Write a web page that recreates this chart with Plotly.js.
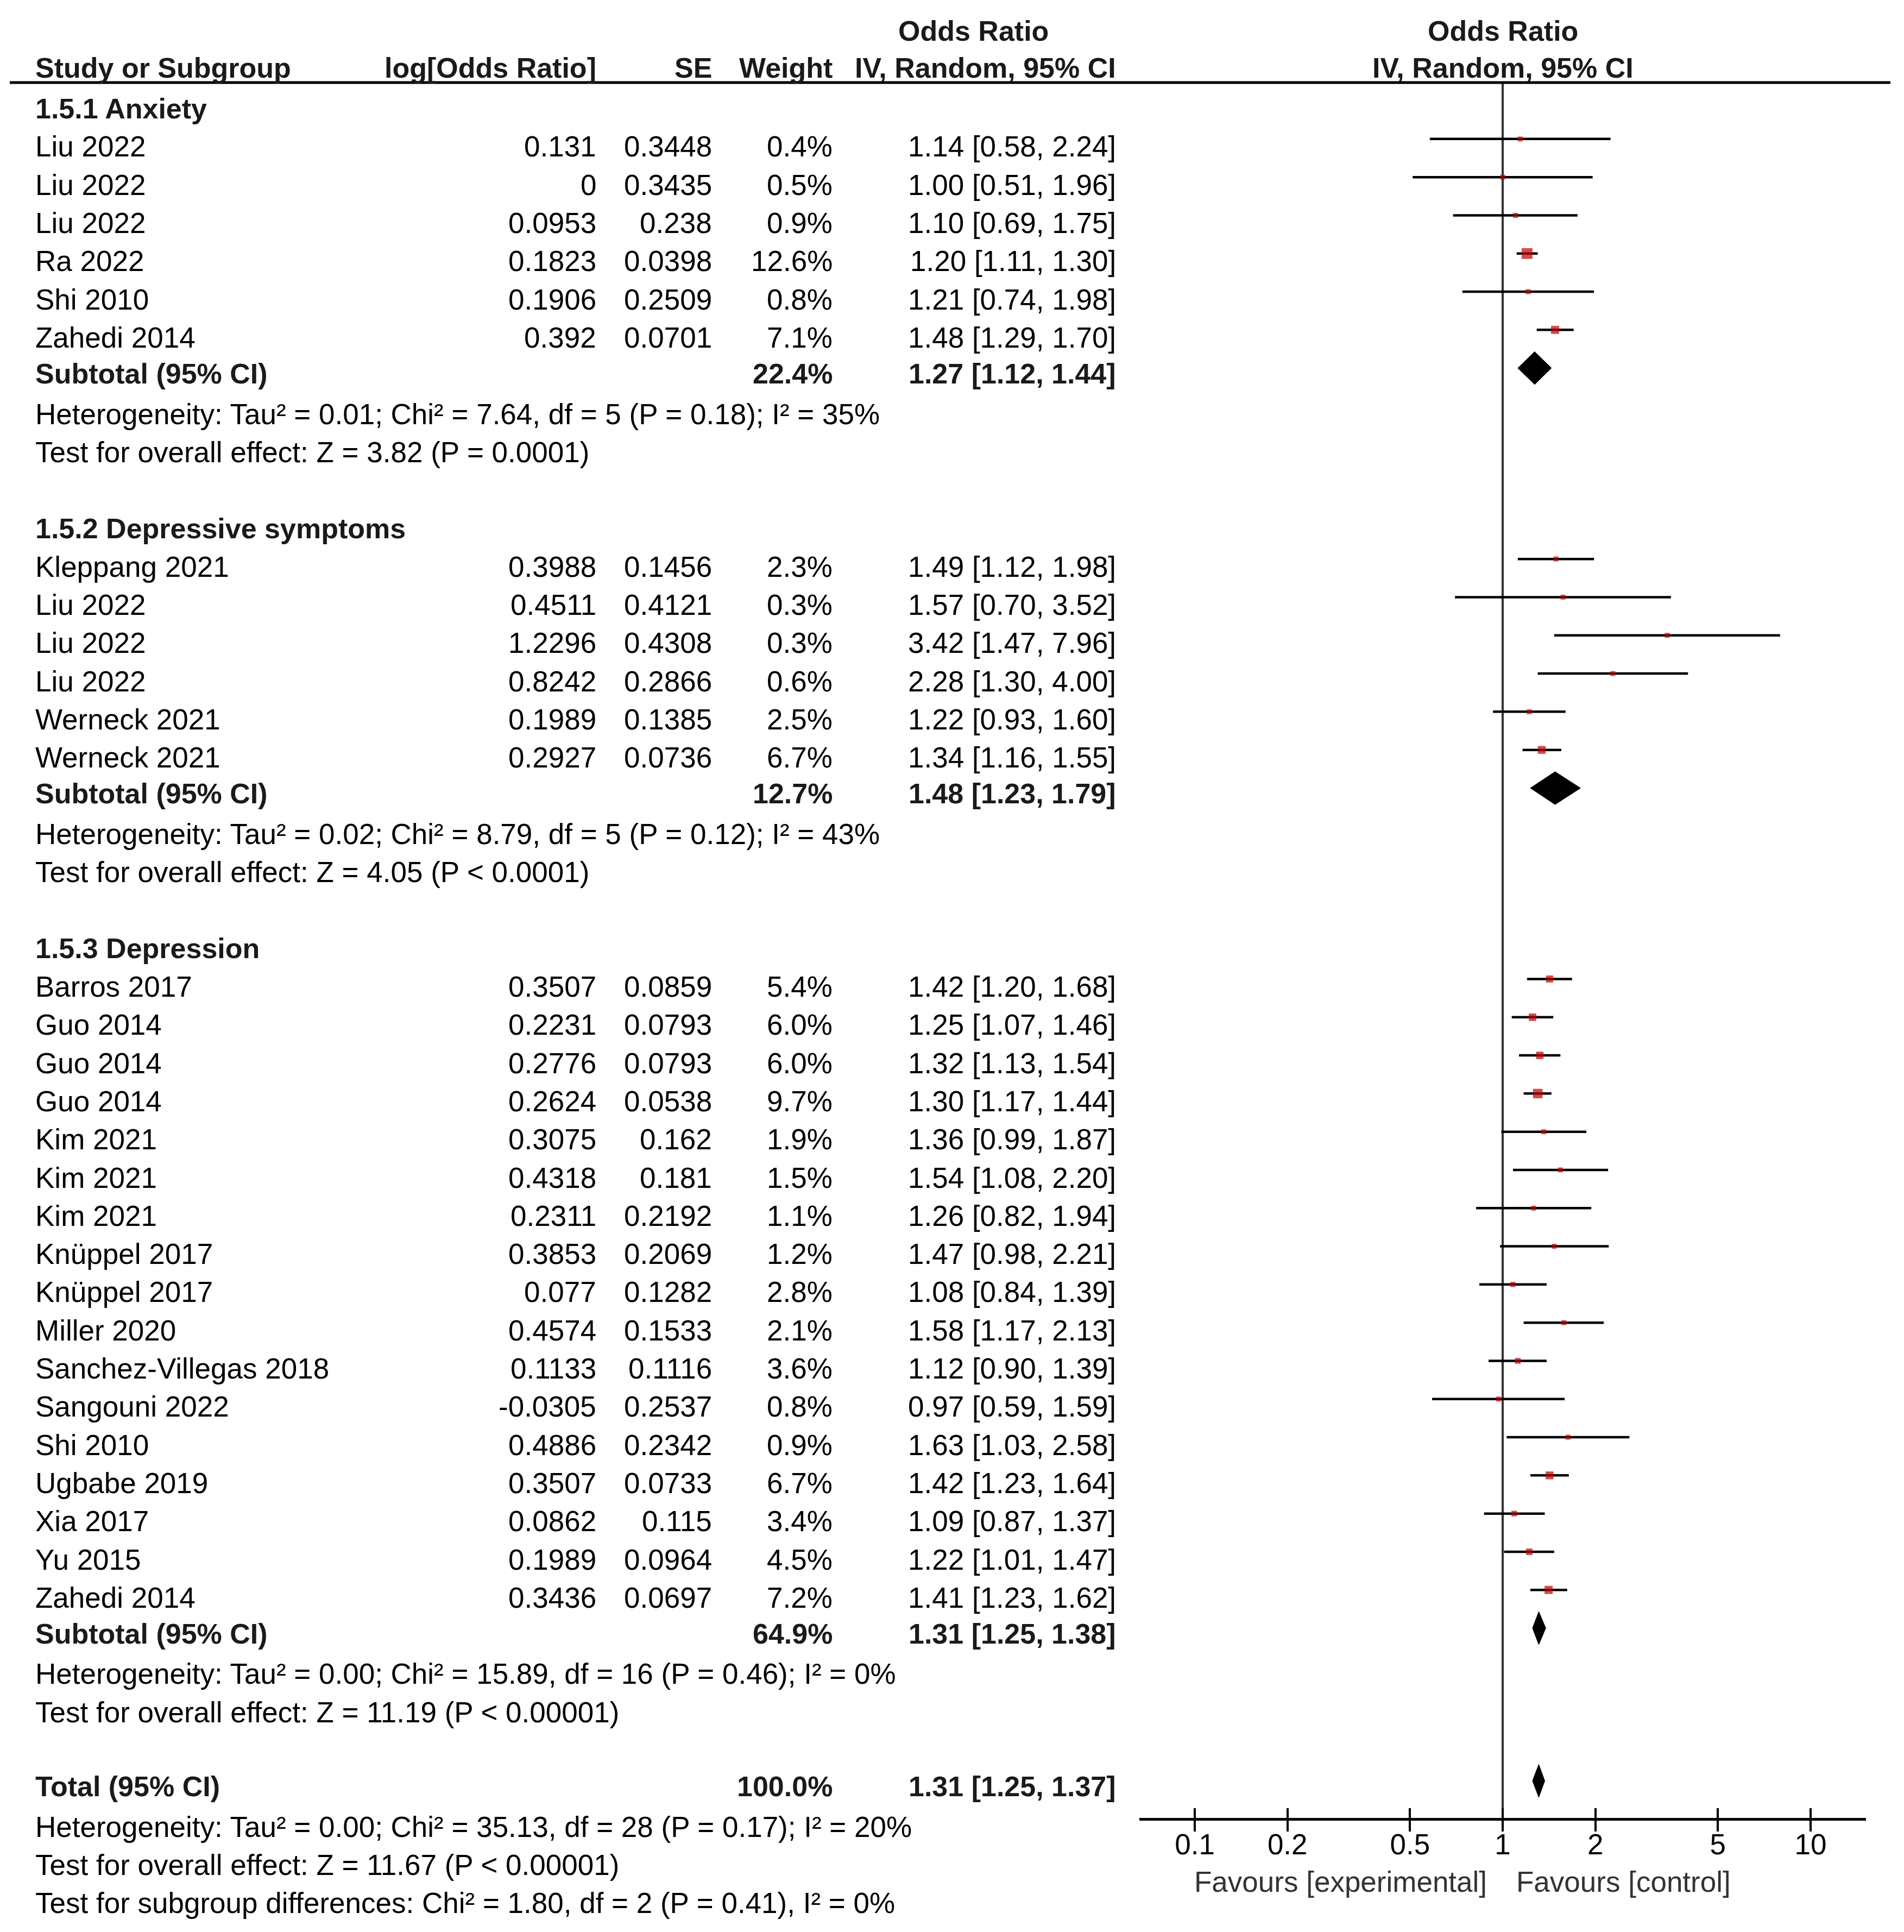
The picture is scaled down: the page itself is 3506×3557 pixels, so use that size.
<!DOCTYPE html>
<html>
<head>
<meta charset="utf-8">
<script src="https://cdn.plot.ly/plotly-3.0.1.min.js"></script>
<style>
  html, body { margin: 0; padding: 0; background: #ffffff; }
  #chart { width: 3506px; height: 3557px; }
</style>
</head>
<body>
<div id="chart"></div>
<script>
// ---------------- DATA ----------------
// 1.5.1 Anxiety
const anxStudy  = ["Liu 2022", "Liu 2022", "Liu 2022", "Ra 2022", "Shi 2010", "Zahedi 2014"];
const anxLogOR  = [0.131, 0, 0.0953, 0.1823, 0.1906, 0.392];
const anxSE     = [0.3448, 0.3435, 0.238, 0.0398, 0.2509, 0.0701];
const anxWeight = [0.4, 0.5, 0.9, 12.6, 0.8, 7.1];
const anxOR     = [1.14, 1.00, 1.10, 1.20, 1.21, 1.48];
const anxLo     = [0.58, 0.51, 0.69, 1.11, 0.74, 1.29];
const anxHi     = [2.24, 1.96, 1.75, 1.30, 1.98, 1.70];

// 1.5.2 Depressive symptoms
const dsyStudy  = ["Kleppang 2021", "Liu 2022", "Liu 2022", "Liu 2022", "Werneck 2021", "Werneck 2021"];
const dsyLogOR  = [0.3988, 0.4511, 1.2296, 0.8242, 0.1989, 0.2927];
const dsySE     = [0.1456, 0.4121, 0.4308, 0.2866, 0.1385, 0.0736];
const dsyWeight = [2.3, 0.3, 0.3, 0.6, 2.5, 6.7];
const dsyOR     = [1.49, 1.57, 3.42, 2.28, 1.22, 1.34];
const dsyLo     = [1.12, 0.70, 1.47, 1.30, 0.93, 1.16];
const dsyHi     = [1.98, 3.52, 7.96, 4.00, 1.60, 1.55];

// 1.5.3 Depression
const depStudy  = ["Barros 2017", "Guo 2014", "Guo 2014", "Guo 2014", "Kim 2021", "Kim 2021", "Kim 2021",
                   "Knüppel 2017", "Knüppel 2017", "Miller 2020", "Sanchez-Villegas 2018", "Sangouni 2022",
                   "Shi 2010", "Ugbabe 2019", "Xia 2017", "Yu 2015", "Zahedi 2014"];
const depLogOR  = [0.3507, 0.2231, 0.2776, 0.2624, 0.3075, 0.4318, 0.2311, 0.3853, 0.077, 0.4574,
                   0.1133, -0.0305, 0.4886, 0.3507, 0.0862, 0.1989, 0.3436];
const depSE     = [0.0859, 0.0793, 0.0793, 0.0538, 0.162, 0.181, 0.2192, 0.2069, 0.1282, 0.1533,
                   0.1116, 0.2537, 0.2342, 0.0733, 0.115, 0.0964, 0.0697];
const depWeight = [5.4, 6.0, 6.0, 9.7, 1.9, 1.5, 1.1, 1.2, 2.8, 2.1, 3.6, 0.8, 0.9, 6.7, 3.4, 4.5, 7.2];
const depOR     = [1.42, 1.25, 1.32, 1.30, 1.36, 1.54, 1.26, 1.47, 1.08, 1.58, 1.12, 0.97, 1.63, 1.42, 1.09, 1.22, 1.41];
const depLo     = [1.20, 1.07, 1.13, 1.17, 0.99, 1.08, 0.82, 0.98, 0.84, 1.17, 0.90, 0.59, 1.03, 1.23, 0.87, 1.01, 1.23];
const depHi     = [1.68, 1.46, 1.54, 1.44, 1.87, 2.20, 1.94, 2.21, 1.39, 2.13, 1.39, 1.59, 2.58, 1.64, 1.37, 1.47, 1.62];

// Subgroup summaries
const groupTitles = ["1.5.1 Anxiety", "1.5.2 Depressive symptoms", "1.5.3 Depression"];
const subWeight   = [22.4, 12.7, 64.9];
const subOR       = [1.27, 1.48, 1.31];
const subLo       = [1.12, 1.23, 1.25];
const subHi       = [1.44, 1.79, 1.38];
const subHet      = ["Heterogeneity: Tau² = 0.01; Chi² = 7.64, df = 5 (P = 0.18); I² = 35%",
                     "Heterogeneity: Tau² = 0.02; Chi² = 8.79, df = 5 (P = 0.12); I² = 43%",
                     "Heterogeneity: Tau² = 0.00; Chi² = 15.89, df = 16 (P = 0.46); I² = 0%"];
const subTest     = ["Test for overall effect: Z = 3.82 (P = 0.0001)",
                     "Test for overall effect: Z = 4.05 (P < 0.0001)",
                     "Test for overall effect: Z = 11.19 (P < 0.00001)"];

// Overall
const totalWeight = 100.0;
const totalOR = 1.31, totalLo = 1.25, totalHi = 1.37;
const totalHet  = "Heterogeneity: Tau² = 0.00; Chi² = 35.13, df = 28 (P = 0.17); I² = 20%";
const totalTest = "Test for overall effect: Z = 11.67 (P < 0.00001)";
const diffTest  = "Test for subgroup differences: Chi² = 1.80, df = 2 (P = 0.41), I² = 0%";

// Axis ticks and labels
const tickVals   = [0.1, 0.2, 0.5, 1, 2, 5, 10];
const tickLabels = ["0.1", "0.2", "0.5", "1", "2", "5", "10"];
const favLeft  = "Favours [experimental]";
const favRight = "Favours [control]";

// ---------------- LAYOUT CONSTANTS ----------------
const W = 3506, H = 3557;
const ROW0 = 199.6, PITCH = 70.3;            // text row centres (px)
const nameX = 63, logX = 1100, seX = 1313, wX = 1535, ciX = 2057, tableHdrCX = 1792;
const ruleY = 152, axisY = 3349;
const plotL = 2098, plotR = 3436;
const xRange = [-1.18, 1.18];
const markOffset = 0.2;      // plot marks sit slightly above the text row
const summaryShift = 0.05;   // summary rows sit a touch higher
const diamondHalf = 0.43;    // rows
const FONT = "Liberation Sans, Arial, sans-serif";
const FS = 53, FSB = 52;

const px = x => x / W;
const py = y => 1 - y / H;
const yTop = -ROW0 / PITCH;
const yBot = (H - ROW0) / PITCH;

// ---------------- BUILD ----------------
const groups = [
  {study: anxStudy, logOR: anxLogOR, se: anxSE, w: anxWeight, or: anxOR, lo: anxLo, hi: anxHi},
  {study: dsyStudy, logOR: dsyLogOR, se: dsySE, w: dsyWeight, or: dsyOR, lo: dsyLo, hi: dsyHi},
  {study: depStudy, logOR: depLogOR, se: depSE, w: depWeight, or: depOR, lo: depLo, hi: depHi}
];

const annotations = [];
function addText(x, row, text, align, bold, color) {
  annotations.push({
    xref: 'paper', yref: 'y', x: px(x), y: row,
    xanchor: align, yanchor: 'middle', showarrow: false,
    text: bold ? '<b>' + text + '</b>' : text,
    font: {family: FONT, size: bold ? FSB : FS, color: color || (bold ? '#1a1a1a' : '#000000')}
  });
}
const ciStr = (o, l, h) => o.toFixed(2) + ' [' + l.toFixed(2) + ', ' + h.toFixed(2) + ']';

const lineX = [], lineY = [];
const mkX = [], mkY = [], mkS = [];
const diamonds = [];

let row = 0;
groups.forEach((g, gi) => {
  addText(nameX, row, groupTitles[gi], 'left', true);
  row++;
  g.study.forEach((s, i) => {
    addText(nameX, row, s, 'left');
    addText(logX, row, String(g.logOR[i]), 'right');
    addText(seX, row, String(g.se[i]), 'right');
    addText(wX, row, g.w[i].toFixed(1) + '%', 'right');
    addText(ciX, row, ciStr(g.or[i], g.lo[i], g.hi[i]), 'right');
    lineX.push(g.lo[i], g.hi[i], null);
    lineY.push(row - markOffset, row - markOffset, null);
    mkX.push(g.or[i]); mkY.push(row - markOffset);
    mkS.push(Math.max(9, 5.6 * Math.sqrt(g.w[i])));
    row++;
  });
  const sr = row - summaryShift;
  addText(nameX, sr, 'Subtotal (95% CI)', 'left', true);
  addText(wX, sr, subWeight[gi].toFixed(1) + '%', 'right', true);
  addText(ciX, sr, ciStr(subOR[gi], subLo[gi], subHi[gi]), 'right', true);
  diamonds.push({lo: subLo[gi], est: subOR[gi], hi: subHi[gi], row: row - markOffset});
  row++;
  addText(nameX, row, subHet[gi], 'left');
  row++;
  addText(nameX, row, subTest[gi], 'left');
  row++;
  row++; // blank
});
const tr = row - summaryShift;
addText(nameX, tr, 'Total (95% CI)', 'left', true);
addText(wX, tr, totalWeight.toFixed(1) + '%', 'right', true);
addText(ciX, tr, ciStr(totalOR, totalLo, totalHi), 'right', true);
diamonds.push({lo: totalLo, est: totalOR, hi: totalHi, row: row - markOffset});
row++;
addText(nameX, row, totalHet, 'left'); row++;
addText(nameX, row, totalTest, 'left'); row++;
addText(nameX, row, diffTest, 'left'); row++;

// Column headers
function addHdr(xref, x, ypx, text, anchor) {
  annotations.push({
    xref: xref, yref: 'paper', x: x, y: py(ypx), xanchor: anchor, yanchor: 'middle',
    showarrow: false, text: '<b>' + text + '</b>',
    font: {family: FONT, size: FSB, color: '#1a1a1a'}
  });
}
addHdr('paper', px(nameX), 125, 'Study or Subgroup', 'left');
addHdr('paper', px(logX), 125, 'log[Odds Ratio]', 'right');
addHdr('paper', px(seX), 125, 'SE', 'right');
addHdr('paper', px(wX), 125, 'Weight', 'right');
addHdr('paper', px(tableHdrCX), 57, 'Odds Ratio', 'center');
addHdr('paper', px(ciX), 125, 'IV, Random, 95% CI', 'right');
addHdr('x', 0, 57, 'Odds Ratio', 'center');
addHdr('x', 0, 125, 'IV, Random, 95% CI', 'center');

// Favours labels
annotations.push({xref: 'paper', yref: 'paper', x: px(2740), y: py(3464), xanchor: 'right', yanchor: 'middle',
  showarrow: false, text: favLeft, font: {family: FONT, size: FS, color: '#333333'}});
annotations.push({xref: 'paper', yref: 'paper', x: px(2790), y: py(3464), xanchor: 'left', yanchor: 'middle',
  showarrow: false, text: favRight, font: {family: FONT, size: FS, color: '#333333'}});

// Traces
const traces = [];
traces.push({
  x: lineX, y: lineY, type: 'scatter', mode: 'lines', xaxis: 'x', yaxis: 'y',
  line: {color: '#000000', width: 4.5}, hoverinfo: 'skip', showlegend: false
});
traces.push({
  x: mkX, y: mkY, type: 'scatter', mode: 'markers', xaxis: 'x', yaxis: 'y',
  marker: {symbol: 'square', size: mkS, color: '#C00000', line: {width: 0}},
  showlegend: false
});
diamonds.forEach(d => {
  traces.push({
    x: [d.lo, d.est, d.hi, d.est, d.lo],
    y: [d.row, d.row - diamondHalf, d.row, d.row + diamondHalf, d.row],
    type: 'scatter', mode: 'lines', fill: 'toself', fillcolor: '#000000',
    line: {color: '#000000', width: 1}, xaxis: 'x', yaxis: 'y', showlegend: false, hoverinfo: 'skip'
  });
});
// invisible trace to keep the upper-tick axis alive
traces.push({x: [1], y: [0], xaxis: 'x2', yaxis: 'y', type: 'scatter', mode: 'markers',
  marker: {opacity: 0}, showlegend: false, hoverinfo: 'skip'});

const shapes = [
  // horizontal rule under headers
  {type: 'line', xref: 'paper', yref: 'paper', x0: px(18), x1: px(3481), y0: py(ruleY), y1: py(ruleY),
   line: {color: '#000000', width: 5}},
  // line of no effect
  {type: 'line', xref: 'x', yref: 'paper', x0: 1, x1: 1, y0: py(axisY), y1: py(ruleY),
   line: {color: '#333333', width: 4}, layer: 'below'}
];

const axisCommon = {
  type: 'log', range: xRange, domain: [px(plotL), px(plotR)],
  anchor: 'free', position: py(axisY),
  tickmode: 'array', tickvals: tickVals, ticktext: tickLabels,
  showgrid: false, zeroline: false, fixedrange: true
};

const layout = {
  width: W, height: H,
  margin: {l: 0, r: 0, t: 0, b: 0, pad: 0},
  paper_bgcolor: '#ffffff', plot_bgcolor: 'rgba(0,0,0,0)',
  showlegend: false,
  xaxis: Object.assign({}, axisCommon, {
    showline: true, linecolor: '#000000', linewidth: 5,
    ticks: 'outside', ticklen: 20, tickwidth: 4, tickcolor: '#000000',
    ticklabelstandoff: -22,
    tickfont: {family: FONT, size: FS, color: '#000000'}
  }),
  xaxis2: Object.assign({}, axisCommon, {
    overlaying: 'x', matches: 'x',
    showline: false, ticks: 'inside', ticklen: 20, tickwidth: 4, tickcolor: '#000000',
    showticklabels: false
  }),
  yaxis: {
    domain: [0, 1], range: [yBot, yTop], visible: false, showgrid: false, zeroline: false, fixedrange: true
  },
  annotations: annotations,
  shapes: shapes
};

Plotly.newPlot('chart', traces, layout, {staticPlot: true, displayModeBar: false});
</script>
</body>
</html>
